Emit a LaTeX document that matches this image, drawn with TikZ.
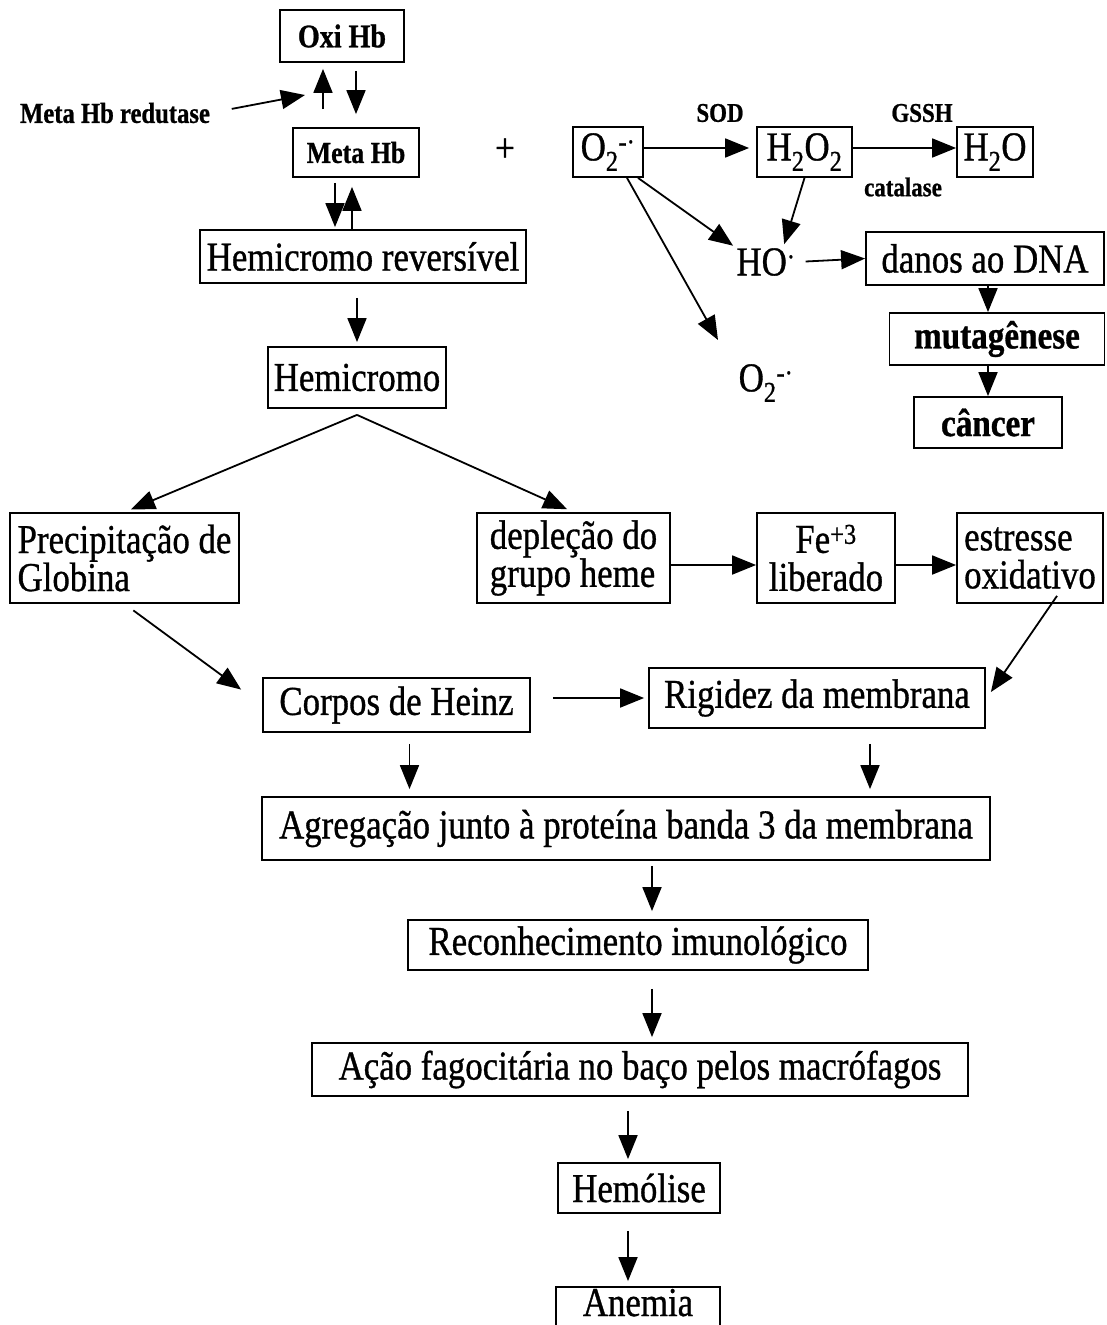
\documentclass[tikz,border=0pt]{standalone}
\usepackage{fontspec}
\setmainfont{Liberation Serif}[FakeStretch=0.85, FakeBold=0.8]
\usetikzlibrary{arrows.meta}
\newcommand\mainfs{\fontsize{41}{38}\selectfont}
\begin{document}
\begin{tikzpicture}[x=1pt,y=-1pt,
 box/.style={draw, line width=1.8pt, inner sep=0pt, font=\mainfs, align=center},
 arr/.style={line width=1.8pt, -{Triangle[length=24pt,width=19pt]}},
 lbl/.style={inner sep=0pt, font=\mainfs},
 small/.style={inner sep=0pt, font=\bfseries\fontsize{27}{30}\selectfont}]
\fill[white] (0,0) rectangle (1106,1325);
\clip (0,0) rectangle (1106,1325);

% left column
\node[box, font=\bfseries\fontsize{33}{36}\selectfont, minimum width=124pt, minimum height=52pt] (oxi) at (342,36) {Oxi Hb};
\node[box, font=\bfseries\fontsize{30.5}{34}\selectfont, minimum width=126pt, minimum height=49pt] (meta) at (356,152.5) {Meta Hb};
\node[inner sep=0pt, font=\bfseries\fontsize{29}{32}\selectfont] (red) at (115,113) {Meta Hb redutase};
\coordinate (redtip) at (305,95);
\node[lbl] (plus) at (505,150) {+};
\node[box, minimum width=326pt, minimum height=53pt] (hrev) at (363,256.5) {Hemicromo reversível};
\node[box, minimum width=178pt, minimum height=61pt] (hemi) at (357,377.5) {Hemicromo};
\coordinate (fork) at ([yshift=-6pt]hemi.south);
\node[box, align=left, minimum width=229pt, minimum height=90pt] (prec) at (124.5,558) {Precipitação de\\Globina};
\node[box, align=left, minimum width=193pt, minimum height=90pt] (depl) at (573.5,558) {depleção do\\grupo heme};
\node[box, minimum width=138pt, minimum height=90pt] (fe) at (826,558) {Fe\textsuperscript{+3}\\liberado};
\node[box, align=left, minimum width=146pt, minimum height=90pt] (estr) at (1030,558) {estresse\\oxidativo};
\node[box, minimum width=267pt, minimum height=54pt] (heinz) at (396.5,705) {Corpos de Heinz};
\node[box, minimum width=336pt, minimum height=60pt] (rig) at (817,698) {Rigidez da membrana};
\node[box, minimum width=728pt, minimum height=63pt] (agreg) at (626,828.5) {Agregação junto à proteína banda 3 da membrana};
\node[box, minimum width=460pt, minimum height=50pt] (recon) at (638,945) {Reconhecimento imunológico};
\node[box, minimum width=656pt, minimum height=53pt] (acao) at (640,1069.5) {Ação fagocitária no baço pelos macrófagos};
\node[box, minimum width=162pt, minimum height=50pt] (hemol) at (639,1188) {Hemólise};
\node[box, minimum width=164pt, minimum height=60pt] (anem) at (638,1317) {};
\node[lbl, anchor=base] (anemt) at (638,1316) {Anemia};

% right top
\node[box, minimum width=70pt, minimum height=50pt] (o2) at (608,152) {O\textsubscript{2}\textsuperscript{-·}};
\node[box, minimum width=95pt, minimum height=50pt] (h2o2) at (804.5,152) {H\textsubscript{2}O\textsubscript{2}};
\node[box, minimum width=76pt, minimum height=50pt] (h2o) at (995,152) {H\textsubscript{2}O};
\node[small] (sod) at (720,113) {SOD};
\node[small] (gssh) at (922,113) {GSSH};
\node[small] (cat) at (903,187) {catalase};
\node[lbl] (ho) at (766,262) {HO\textsuperscript{·}};
\node[lbl] (o2b) at (766,383) {O\textsubscript{2}\textsuperscript{-·}};
\coordinate (o2tip) at (718,340);
\node[box, minimum width=238pt, minimum height=53pt] (danos) at (985,258.5) {danos ao DNA};
\node[box, font=\bfseries\fontsize{39}{40}\selectfont, minimum width=215pt, minimum height=52pt] (mut) at (997,339) {mutagênese};
\node[box, font=\bfseries\fontsize{39}{40}\selectfont, minimum width=148pt, minimum height=51pt] (cancer) at (988,422.5) {câncer};

% connectors left
\draw[arr, shorten <=18pt, shorten >=6pt] ([xshift=-19pt]oxi.south |- meta.north) -- ([xshift=-19pt]oxi.south);
\draw[arr, shorten <=8pt, shorten >=13pt] ([xshift=14pt]oxi.south) -- ([xshift=14pt]oxi.south |- meta.north);
\draw[arr, shorten <=22pt] (red.east) -- (redtip);
\draw[arr, shorten <=5pt, shorten >=2pt] ([xshift=-21pt]meta.south) -- ([xshift=-21pt]meta.south |- hrev.north);
\draw[arr, shorten >=9pt] ([xshift=-4pt]meta.south |- hrev.north) -- ([xshift=-4pt]meta.south);
\draw[arr, shorten <=14pt, shorten >=4pt] (hemi.north |- hrev.south) -- (hemi.north);
\draw[arr, shorten >=7pt] (fork) -- (prec.north);
\draw[arr, shorten >=7pt] (fork) -- (depl.north);
\draw[arr] ([yshift=-7pt]depl.east) -- ([yshift=-7pt]fe.west);
\draw[arr] ([yshift=-7pt]fe.east) -- ([yshift=-7pt]estr.west);
\draw[arr, shorten <=11pt, shorten >=26pt] (prec.south) -- (heinz.west);
\draw[arr] ([xshift=27pt,yshift=8pt]estr.south) -- ([xshift=5pt,yshift=6pt]rig.east);
\draw[arr, shorten <=22pt, shorten >=4pt] (heinz.east |- rig.west) -- (rig.west);
\draw[arr, shorten <=11pt, shorten >=7pt] ([xshift=13pt]heinz.south) -- ([xshift=13pt]heinz.south |- agreg.north);
\draw[arr, shorten <=15pt, shorten >=7pt] ([xshift=53pt]rig.south) -- ([xshift=53pt]rig.south |- agreg.north);
\draw[arr, shorten <=5pt, shorten >=8pt] ([xshift=26pt]agreg.south) -- ([xshift=26pt]agreg.south |- recon.north);
\draw[arr, shorten <=18pt, shorten >=5pt] ([xshift=14pt]recon.south) -- ([xshift=14pt]recon.south |- acao.north);
\draw[arr, shorten <=14pt, shorten >=3pt] ([xshift=-12pt]acao.south) -- ([xshift=-12pt]acao.south |- hemol.north);
\draw[arr, shorten <=17pt, shorten >=5pt] ([xshift=-11pt]hemol.south) -- ([xshift=-11pt]hemol.south |- anem.north);

% connectors right
\draw[arr, shorten >=7pt] (o2.east |- 0,148) -- (h2o2.west |- 0,148);
\draw[arr] (h2o2.east |- 0,148) -- (h2o.west |- 0,148);
\draw[arr, shorten >=4pt] ([xshift=30pt]o2.south) -- (ho.north west);
\draw[arr, shorten >=4pt] (h2o2.south) -- ([xshift=17pt]ho.north);
\draw[arr] ([xshift=19pt]o2.south) -- (o2tip);
\draw[arr, shorten <=10pt] (ho.east) -- (danos.west);
\draw[arr] (danos.south -| cancer.north) -- (cancer.north |- mut.north);
\draw[arr] (cancer.north |- mut.south) -- (cancer.north);
\end{tikzpicture}
\end{document}
